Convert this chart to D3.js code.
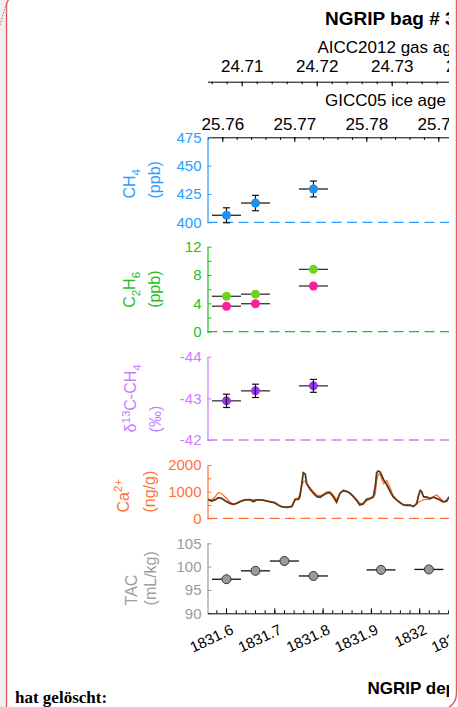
<!DOCTYPE html>
<html><head><meta charset="utf-8">
<script src="https://cdn.jsdelivr.net/npm/d3@7/dist/d3.min.js"></script>
<style>
html,body{margin:0;padding:0;background:#fff;}
svg{display:block;}
text{font-family:"Liberation Sans",Arial,Helvetica,sans-serif;}
</style></head><body>
<svg id="c" width="458" height="707"></svg>
<script>
// ---------------- data ----------------
const sampleDepths = [1831.601, 1831.661, 1831.781];
const sampleHalfLength = 0.03;
const ch4Values = [406.2, 417.0, 429.4];
const ch4Errors = [6.6, 6.8, 7.0];
const c2h6Green = [5.0, 5.3, 8.8];
const c2h6Pink = [3.6, 3.95, 6.45];
const d13cValues = [-42.94, -43.18, -43.30];
const d13cErrors = [0.16, 0.16, 0.155];
const tacDepths = [1831.601, 1831.661, 1831.721, 1831.781, 1831.921, 1832.020];
const tacValues = [97.3, 99.1, 101.2, 98.0, 99.3, 99.4];
const caDepths = [1831.563,1831.570,1831.577,1831.584,1831.591,1831.598,1831.608,1831.615,1831.622,1831.629,
  1831.639,1831.650,1831.657,1831.663,1831.674,1831.684,1831.695,1831.701,1831.708,1831.715,
  1831.726,1831.736,1831.739,1831.743,1831.750,1831.753,1831.757,1831.760,1831.764,1831.767,
  1831.774,1831.781,1831.788,1831.795,1831.802,1831.808,1831.815,1831.822,1831.829,1831.836,
  1831.843,1831.850,1831.857,1831.864,1831.871,1831.877,1831.884,1831.891,1831.898,1831.905,
  1831.909,1831.912,1831.915,1831.919,1831.926,1831.933,1831.940,1831.946,1831.953,1831.960,
  1831.967,1831.974,1831.981,1831.988,1831.995,1831.998,1832.002,1832.005,1832.009,1832.016,
  1832.022,1832.029,1832.036,1832.043,1832.050,1832.057,1832.062];
const caBrown = [712,650,690,775,750,660,560,525,560,625,
  690,700,625,690,690,650,610,590,500,440,
  410,440,540,712,712,810,1310,1710,1660,1310,
  1090,940,810,790,875,940,960,810,600,940,
  1040,1010,940,810,660,500,540,712,750,810,
  1190,1710,1775,1740,1460,1250,1000,810,690,590,
  500,490,490,440,560,810,1040,1000,810,790,
  750,790,750,690,610,660,810];
const caOrange = [700,680,800,960,930,800,620,540,560,640,
  700,700,690,700,680,640,600,560,490,440,
  420,460,560,700,780,900,1200,1375,1400,1300,
  1150,1000,870,850,900,990,1000,880,700,940,
  1050,1000,920,820,700,560,560,650,720,780,
  900,1400,1650,1650,1300,1420,1150,850,700,600,
  520,500,500,460,520,600,640,660,700,720,
  700,800,880,760,640,620,800];
const depthTicks = [1831.6, 1831.7, 1831.8, 1831.9, 1832.0, 1832.1];
const gasAgeTicks = [24.71, 24.72, 24.73, 24.74];
const iceAgeTicks = [25.76, 25.77, 25.78, 25.79];
const depthLim = [1831.5617, 1832.1114];
const gasAgeLim = [24.70544, 24.74084];
const iceAgeLim = [25.75794, 25.79482];

// ---------------- setup ----------------
const svg = d3.select("#c");
const X0 = 207.5, X1 = 473;
const x = d3.scaleLinear().domain(depthLim).range([X0, X1]);
const xGas = d3.scaleLinear().domain(gasAgeLim).range([X0, X1]);
const xIce = d3.scaleLinear().domain(iceAgeLim).range([X0, X1]);

// page decorations
svg.append("rect").attr("x",0).attr("y",0).attr("width",5.5).attr("height",707).attr("fill","#efefef");
svg.append("path").attr("d","M6.5,707 L6.5,6 Q6.5,2 8.5,0").attr("fill","none").attr("stroke","#e05a5a").attr("stroke-width",1.4);
svg.append("path").attr("d","M0,25 L7,1").attr("fill","none").attr("stroke","#e05a5a").attr("stroke-width",1).attr("stroke-dasharray","1.5,1.5");
svg.append("path").attr("d","M456.5,0 L456.5,693 Q456.5,703 449,707").attr("fill","none").attr("stroke","#e05a5a").attr("stroke-width",1.4);
svg.append("text").attr("x",15).attr("y",703).attr("font-size",17).attr("font-weight","bold")
  .style("font-family","'Liberation Serif','Times New Roman',serif").text("hat gelöscht:");

svg.append("defs").append("clipPath").attr("id","clip").append("rect").attr("x",0).attr("y",0).attr("width",449).attr("height",707);
const g = svg.append("g").attr("clip-path","url(#clip)");

// titles
g.append("text").attr("x",325).attr("y",25).attr("font-size",19).attr("font-weight","bold").text("NGRIP bag # 3");
g.append("text").attr("x",317.5).attr("y",53).attr("font-size",17).text("AICC2012 gas age (ka)");
g.append("text").attr("x",325).attr("y",106).attr("font-size",17).text("GICC05 ice age (ka)");
g.append("text").attr("x",367.5).attr("y",693.5).attr("font-size",17).attr("font-weight","bold").text("NGRIP depth (m)");

function topAxis(scale, ticks, lim, y, pad){
  const minor = d3.range(Math.ceil(lim[0]/0.002)*0.002, lim[1], 0.002);
  g.append("g").attr("transform",`translate(0,${y})`)
    .call(d3.axisTop(scale).tickValues(minor).tickFormat("").tickSizeInner(-2.6).tickSizeOuter(0))
    .call(a=>a.selectAll("line,path").attr("stroke","#000").attr("stroke-width",1));
  g.append("g").attr("transform",`translate(0,${y})`)
    .call(d3.axisTop(scale).tickValues(ticks).tickFormat(d3.format(".2f")).tickSizeInner(-4.8).tickSizeOuter(0).tickPadding(pad))
    .call(a=>{a.select("path").remove(); a.selectAll("line").attr("stroke","#000");
      a.selectAll("text").attr("font-size",17).attr("fill","#000").style("font-family","'Liberation Sans',Arial,sans-serif");});
}
topAxis(xGas, gasAgeTicks, gasAgeLim, 81.7, 9.5);
topAxis(xIce, iceAgeTicks, iceAgeLim, 137.3, 7.5);

// ---------- panels ----------
const panels = [
  {key:"ch4", dom:[400,475], rng:[222.3,137.3], ticks:[400,425,450,475], lab:[400,425,450,475], color:"#2a9dff", base:400, bx:[135,160],
   lines:[[["CH",0],["4",1]],[["(ppb)",0]]]},
  {key:"c2h6", dom:[0,12], rng:[331.7,246.7], ticks:[0,2,4,6,8,10,12], lab:[0,4,8,12], color:"#1fbf1f", base:0, bx:[135,160],
   lines:[[["C",0],["2",1],["H",0],["6",1]],[["(ppb)",0]]]},
  {key:"d13c", dom:[-42,-44], rng:[440,356.7], ticks:[-44,-43,-42], lab:[-44,-43,-42], color:"#c97cff", base:-42, bx:[136,161],
   lines:[[["δ",0],["13",-1],["C-CH",0],["4",1]],[["(‰)",0]]]},
  {key:"ca", dom:[0,2000], rng:[518.3,465], ticks:[0,500,1000,1500,2000], lab:[0,1000,2000], color:"#ff7136", base:0, bx:[128.5,155],
   lines:[[["Ca",0],["2+",-1]],[["(ng/g)",0]]]},
  {key:"tac", dom:[90,105], rng:[613.3,543.3], ticks:[90,95,100,105], lab:[90,95,100,105], color:"#9c9c9c", base:null, bx:[137,156],
   lines:[[["TAC",0]],[["(mL/kg)",0]]]}
];
const Y = {};
panels.forEach(p=>{
  const y = d3.scaleLinear().domain(p.dom).range(p.rng);
  Y[p.key] = y;
  if(p.base!==null){
    g.append("line").attr("x1",X0).attr("x2",X1).attr("y1",y(p.base)).attr("y2",y(p.base))
      .attr("stroke",p.color).attr("stroke-width",1.3).attr("stroke-dasharray","10,5.5");
  }
  const ax = g.append("g").attr("transform",`translate(${X0},0)`).style("color",p.color)
    .call(d3.axisLeft(y).tickValues(p.ticks).tickFormat(d=>p.lab.includes(d)?String(d):"").tickSizeInner(-4).tickSizeOuter(0).tickPadding(6));
  ax.selectAll("text").attr("font-size",15).style("font-family","'Liberation Sans',Arial,sans-serif");
  ax.select("path").attr("stroke-width",1.2);
  const cy = (p.rng[0]+p.rng[1])/2;
  const texts = p.lines.map((segs,i)=>{
    const gg = g.append("g").attr("transform",`translate(${p.bx[i]},${cy}) rotate(-90)`);
    const t = gg.append("text").attr("font-size",16).attr("fill",p.color);
    let prev = 0;
    segs.forEach(([s,k])=>{
      const shift = k===1?4.5:(k===-1?-6.5:0);
      t.append("tspan").attr("dy",shift-prev).attr("font-size",k===0?16:11.5).text(s);
      prev = shift;
    });
    return t;
  });
  const L = d3.max(texts, t=>t.node().getComputedTextLength());
  texts.forEach(t=>t.attr("x",-L/2));
});

function hbars(depths, vals, y, color){
  g.append("g").selectAll("line").data(depths).join("line")
    .attr("x1",d=>x(d-sampleHalfLength)).attr("x2",d=>x(d+sampleHalfLength))
    .attr("y1",(d,i)=>y(vals[i])).attr("y2",(d,i)=>y(vals[i]))
    .attr("stroke",color).attr("stroke-width",1.3);
}
function vbars(depths, vals, errs, y){
  const gg = g.append("g").attr("stroke","#111").attr("stroke-width",1.2);
  depths.forEach((d,i)=>{
    const cx = x(d), a = y(vals[i]-errs[i]), b = y(vals[i]+errs[i]);
    gg.append("line").attr("x1",cx).attr("x2",cx).attr("y1",a).attr("y2",b);
    gg.append("line").attr("x1",cx-3.5).attr("x2",cx+3.5).attr("y1",a).attr("y2",a);
    gg.append("line").attr("x1",cx-3.5).attr("x2",cx+3.5).attr("y1",b).attr("y2",b);
  });
}
function dots(depths, vals, y, fill, stroke){
  g.append("g").selectAll("circle").data(depths).join("circle")
    .attr("cx",d=>x(d)).attr("cy",(d,i)=>y(vals[i])).attr("r",4.5)
    .attr("fill",fill).attr("stroke",stroke||"none").attr("stroke-width",stroke?1:0);
}
// CH4
hbars(sampleDepths, ch4Values, Y.ch4, "#222");
vbars(sampleDepths, ch4Values, ch4Errors, Y.ch4);
dots(sampleDepths, ch4Values, Y.ch4, "#1e90f0");
// C2H6
hbars(sampleDepths, c2h6Green, Y.c2h6, "#333");
hbars(sampleDepths, c2h6Pink, Y.c2h6, "#333");
dots(sampleDepths, c2h6Green, Y.c2h6, "#6cd41e");
dots(sampleDepths, c2h6Pink, Y.c2h6, "#ff1f9d");
// d13C
hbars(sampleDepths, d13cValues, Y.d13c, "#333");
dots(sampleDepths, d13cValues, Y.d13c, "#9b34ef");
vbars(sampleDepths, d13cValues, d13cErrors, Y.d13c);
// Ca
const line = d3.line().x((d,i)=>x(caDepths[i])).y(d=>Y.ca(d));
g.append("path").datum(caOrange).attr("d",line).attr("fill","none").attr("stroke","#ff6a2a").attr("stroke-width",1.2);
g.append("path").datum(caBrown).attr("d",line).attr("fill","none").attr("stroke","#5b3a14").attr("stroke-width",1.8);
// TAC
hbars(tacDepths, tacValues, Y.tac, "#111");
dots(tacDepths, tacValues, Y.tac, "#9a9a9a", "#333");

// depth axis
const minorDepth = d3.range(1831.58, 1832.111, 0.02);
g.append("g").attr("transform","translate(0,613.3)")
  .call(d3.axisBottom(x).tickValues(minorDepth).tickFormat("").tickSizeInner(-3).tickSizeOuter(0))
  .call(a=>a.selectAll("line,path").attr("stroke","#000").attr("stroke-width",1));
g.append("g").attr("transform","translate(0,613.3)")
  .call(d3.axisBottom(x).tickValues(depthTicks).tickFormat(d=>String(+d.toFixed(1))).tickSizeInner(-5).tickSizeOuter(0))
  .call(a=>{a.select("path").remove(); a.selectAll("line").attr("stroke","#000");
    a.selectAll("text").attr("font-size",15).attr("fill","#000").attr("text-anchor","end")
     .attr("y",0).attr("dy",0).attr("transform","translate(8,20) rotate(-25)")
     .style("font-family","'Liberation Sans',Arial,sans-serif");});
</script>
</body></html>
